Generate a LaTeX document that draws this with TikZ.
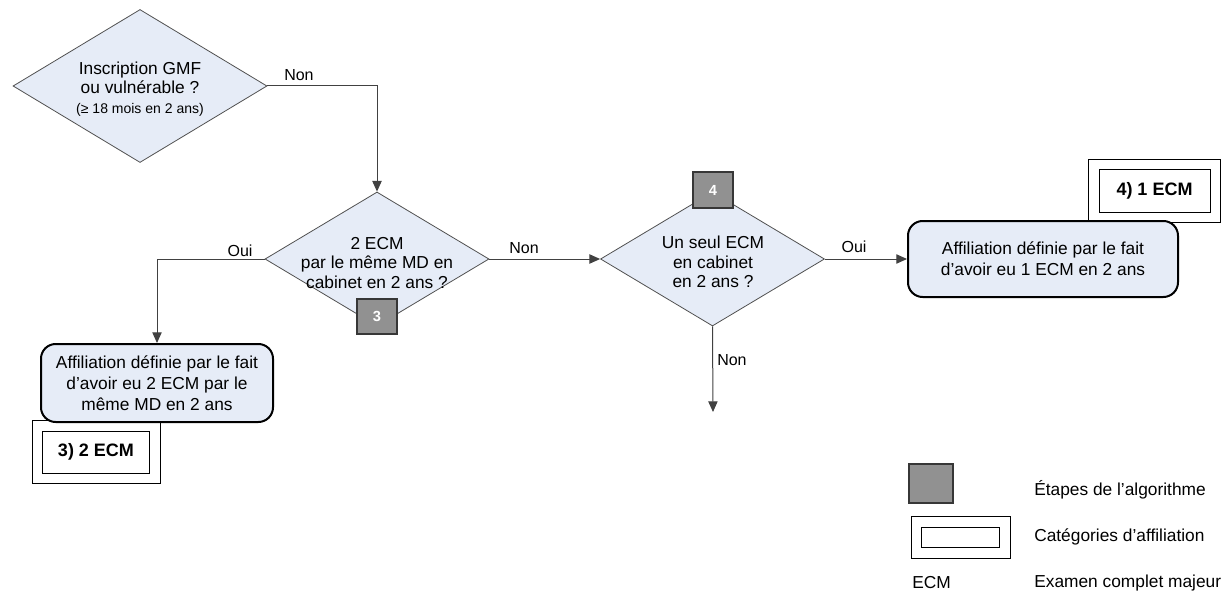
\documentclass[tikz,border=0pt]{standalone}
\usepackage{fontspec}
\setmainfont{Liberation Sans}
\usetikzlibrary{shapes.geometric,arrows.meta}

\begin{document}
\begin{tikzpicture}[x=0.75pt,y=0.75pt,yscale=-1,xscale=1,
  decision/.style={diamond,draw={rgb, 255:red, 80; green, 80; blue, 80},line width=0.6pt,fill={rgb, 255:red, 230; green, 236; blue, 247},inner sep=0pt},
  qtext/.style={align=center,inner sep=0pt,font=\fontsize{13}{14.8}\selectfont},
  affil/.style={draw=black,line width=1.5pt,rounded corners=11pt,fill={rgb, 255:red, 230; green, 236; blue, 247},align=center,inner sep=2pt,font=\fontsize{13}{15.8}\selectfont},
  catouter/.style={draw=black,line width=0.75pt,fill=white,inner sep=0pt},
  catinner/.style={draw=black,line width=0.75pt,fill=white,inner sep=0pt,font=\fontsize{13.5}{16}\selectfont\bfseries},
  stepbox/.style={draw={rgb, 255:red, 55; green, 55; blue, 55},line width=1.5pt,fill={rgb, 255:red, 145; green, 145; blue, 145},text=white,font=\fontsize{11}{12}\selectfont\bfseries,minimum width=30pt,minimum height=26.5pt,inner sep=0pt},
  flow/.style={draw={rgb, 255:red, 65; green, 65; blue, 65},line width=0.75pt,-{Triangle[length=8pt,width=7pt]}},
  lbl/.style={inner sep=0pt,font=\fontsize{12}{14}\selectfont},
  legtxt/.style={inner sep=0pt,font=\fontsize{13}{15}\selectfont}]
\useasboundingbox (0,0) rectangle (1222,592);

%Shape: Categories [id:cat3]
\node[catouter,minimum width=96pt,minimum height=47.25pt] (cat3) at (96,451.5) {};
\node[catinner,minimum width=80.25pt,minimum height=31.5pt] (cat3in) at (96,452) {3) 2 ECM};
%Shape: Categories [id:cat4]
\node[catouter,minimum width=99pt,minimum height=47.25pt] (cat4) at (1154,190.5) {};
\node[catinner,minimum width=83.25pt,minimum height=32.25pt] (cat4in) at (1154.5,190.5) {4) 1 ECM};

%Shape: Diamond [id:gmf]
\node[decision,minimum width=190.5pt,minimum height=114.75pt] (gmf) at (140,86) {};
%Shape: Diamond [id:memeMD]
\node[decision,minimum width=168pt,minimum height=100.5pt] (memeMD) at (377,259) {};
%Shape: Diamond [id:seul]
\node[decision,minimum width=168pt,minimum height=100.5pt] (seul) at (712.5,259) {};

%Shape: Rounded Rectangle [id:aff1]
\node[affil,minimum width=202.5pt,minimum height=57pt] (aff1) at (1043,259) {Affiliation définie par le fait\\d’avoir eu 1 ECM en 2 ans};
%Shape: Rounded Rectangle [id:aff2]
\node[affil,minimum width=174pt,minimum height=58.5pt] (aff2) at (157,383) {Affiliation définie par le fait\\d’avoir eu 2 ECM par le\\même MD en 2 ans};

% Text Node
\node[qtext] (gmftxt) at (140,89) {Inscription GMF\\ou vulnérable ?\\{\fontsize{10.5}{12}\selectfont (≥ 18 mois en 2 ans)}};
% Text Node
\node[qtext] (memeMDtxt) at (377,263) {2 ECM\\par le même MD en\\cabinet en 2 ans ?};
% Text Node
\node[qtext] (seultxt) at (713,262) {Un seul ECM\\en cabinet\\en 2 ans ?};

%Shape: Steps
\node[stepbox] (etape3) at (377,316.5) {3};
\node[stepbox] (etape4) at (713,190) {4};

%Straight Lines
\coordinate (fin) at (713,412);
\draw[flow] (gmf.east) -| (memeMD.north);
\draw[flow] (memeMD.west) -| (aff2.north);
\draw[flow] (memeMD.east) -- (seul.west);
\draw[flow] (seul.east) -- (aff1.west);
\draw[flow] (seul.south) -- (fin);

% Text Node
\node[lbl,anchor=west] (non1) at (284,75) {Non};
\node[lbl] (oui1) at (240,251) {Oui};
\node[lbl] (non2) at (524,248) {Non};
\node[lbl] (oui2) at (854,247) {Oui};
\node[lbl,anchor=west] (non3) at (717,360) {Non};

%Legend
\node[stepbox,minimum width=33pt,minimum height=29.25pt] (legEtape) at (931,483.5) {};
\node[catouter,minimum width=74.25pt,minimum height=31.5pt] (legCat) at (960.5,537) {};
\node[catinner,minimum width=58.5pt,minimum height=15pt] (legCatIn) at (960,537) {};
\node[legtxt,anchor=west] (legEtapeTxt) at (1034,490) {Étapes de l’algorithme};
\node[legtxt,anchor=west] (legCatTxt) at (1034,537) {Catégories d’affiliation};
\node[legtxt,anchor=west] (legECM) at (912,583) {ECM};
\node[legtxt,anchor=west] (legECMTxt) at (1034,583) {Examen complet majeur};

\end{tikzpicture}
\end{document}
